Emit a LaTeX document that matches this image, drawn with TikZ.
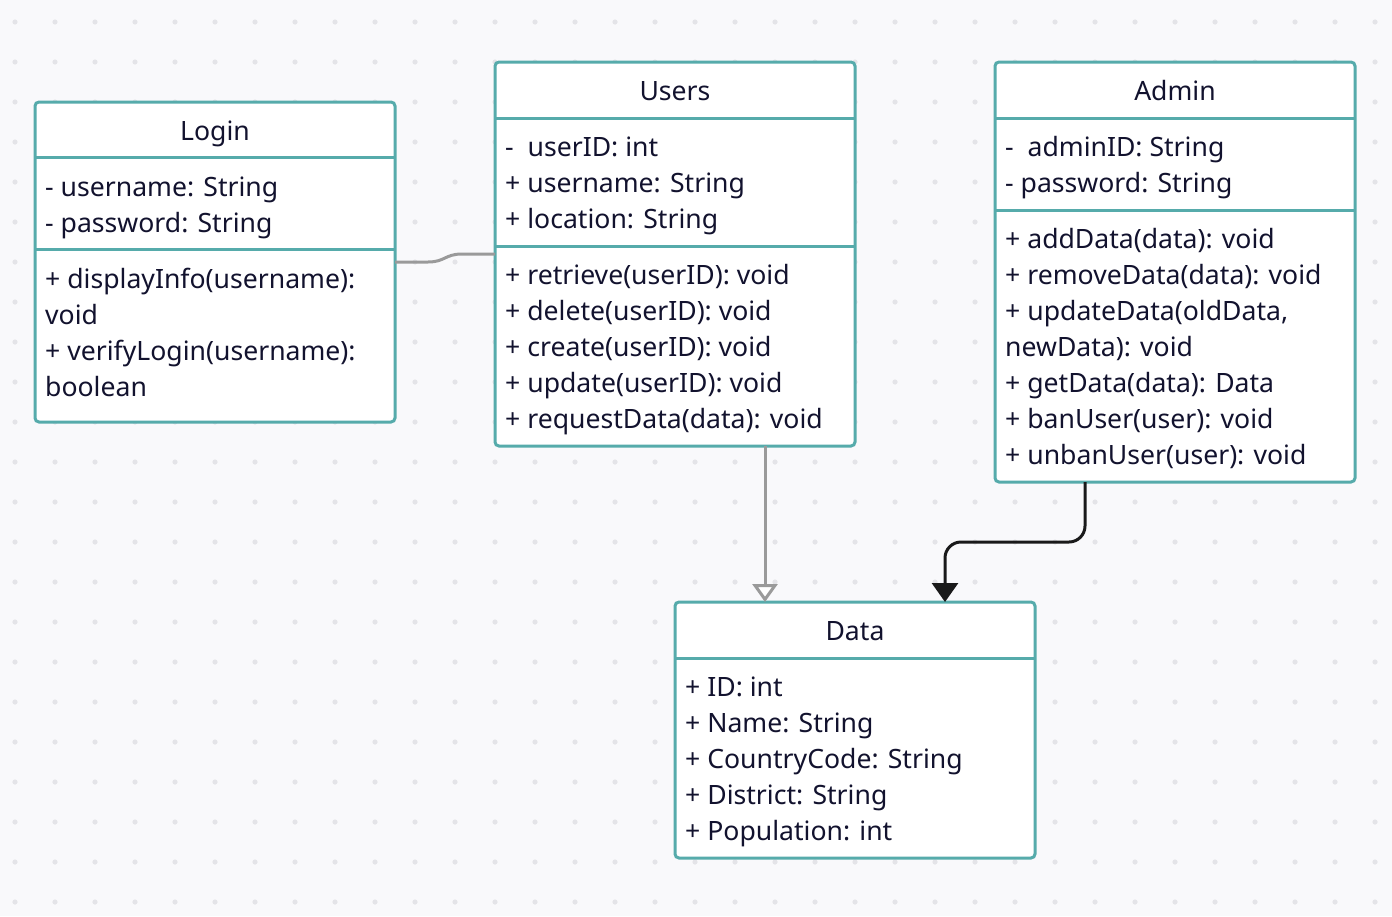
\documentclass[tikz,border=0pt]{standalone}
\usepackage{fontspec}
\setmainfont{Noto Sans}
\usetikzlibrary{arrows.meta}
\definecolor{bgc}{HTML}{F9F9FB}
\definecolor{dotc}{HTML}{E4E4E8}
\definecolor{tealc}{HTML}{56ABAB}
\definecolor{txtc}{HTML}{12122E}
\definecolor{grayc}{HTML}{9A9A9A}
\definecolor{darkc}{HTML}{1A1A1A}
\tikzset{
  umlbox/.style={draw=tealc, line width=3pt, fill=white, rounded corners=4pt, inner sep=0pt, outer sep=0pt},
  sepline/.style={draw=tealc, line width=3pt},
  txt/.style={text=txtc, font=\fontsize{26.6}{36}\selectfont, inner sep=0pt, anchor=base west},
  ttl/.style={text=txtc, font=\fontsize{26.6}{36}\selectfont, inner sep=0pt, anchor=base},
  inherit/.style={draw=grayc, line width=3pt, -{Triangle[open, length=18pt, width=25pt, fill=white, line width=3pt]}},
  plainlink/.style={draw=grayc, line width=3pt},
  assoc/.style={draw=darkc, line width=3pt, rounded corners=16pt, -{Triangle[length=19pt, width=26pt]}, fill=none}
}
\begin{document}
\begin{tikzpicture}[x=1pt, y=-1pt]
\useasboundingbox (0,0) rectangle (1392,916);
\fill[bgc] (0,0) rectangle (1392,916);
\foreach \xx in {15,55,...,1375}
  \foreach \yy in {22,62,...,902}
    \fill[dotc] (\xx,\yy) circle (2.6pt);

% Login
\node[umlbox, minimum width=360pt, minimum height=320pt] (login) at (215,262) {};
\draw[sepline] (login.west |- 0,157) -- (login.east |- 0,157);
\draw[sepline] (login.west |- 0,249) -- (login.east |- 0,249);
\node[ttl] (logint) at (215,140.5) {Login};
\foreach \t [count=\i] in {- username: String, - password: String}
  \node[txt] (la\i) at (45,196.5+36*\i-36) {\t};
\foreach \t [count=\i] in {+ displayInfo(username):, void, + verifyLogin(username):, boolean}
  \node[txt] (lm\i) at (45,288.5+36*\i-36) {\t};

% Users
\node[umlbox, minimum width=360pt, minimum height=384pt] (users) at (675,254) {};
\draw[sepline] (users.west |- 0,118) -- (users.east |- 0,118);
\draw[sepline] (users.west |- 0,246) -- (users.east |- 0,246);
\node[ttl] (userst) at (675,100.5) {Users};
\foreach \t [count=\i] in {-\ \ userID: int, + username: String, + location: String}
  \node[txt] (ua\i) at (505,156.5+36*\i-36) {\t};
\foreach \t [count=\i] in {+ retrieve(userID): void, + delete(userID): void, + create(userID): void, + update(userID): void, + requestData(data): void}
  \node[txt] (um\i) at (505,284.5+36*\i-36) {\t};

% Admin
\node[umlbox, minimum width=360pt, minimum height=420pt] (admin) at (1175,272) {};
\draw[sepline] (admin.west |- 0,118) -- (admin.east |- 0,118);
\draw[sepline] (admin.west |- 0,210) -- (admin.east |- 0,210);
\node[ttl] (admint) at (1175,100.5) {Admin};
\foreach \t [count=\i] in {-\ \ adminID: String, - password: String}
  \node[txt] (aa\i) at (1005,156.5+36*\i-36) {\t};
\foreach \t [count=\i] in {+ addData(data): void, + removeData(data): void, {+ updateData(oldData,}, newData): void, + getData(data): Data, + banUser(user): void, + unbanUser(user): void}
  \node[txt] (am\i) at (1005,248.5+36*\i-36) {\t};

% Data
\node[umlbox, minimum width=360pt, minimum height=256pt] (data) at (855,730) {};
\draw[sepline] (data.west |- 0,658) -- (data.east |- 0,658);
\node[ttl] (datat) at (855,640.5) {Data};
\foreach \t [count=\i] in {+ ID: int, + Name: String, + CountryCode: String, + District: String, + Population: int}
  \node[txt] (da\i) at (685,696.5+36*\i-36) {\t};

% Connectors
\draw[plainlink] (login.east) -- ++(33,0) .. controls +(17,0) and +(-17,0) .. ([xshift=-33pt]users.west) -- (users.west);
\draw[inherit] ([xshift=90pt]users.south) -- ([xshift=90pt]users.south |- data.north);
\coordinate (bend) at (945,542);
\draw[assoc] ([xshift=-90pt]admin.south) |- (bend) -- ([xshift=90pt]data.north);
\end{tikzpicture}
\end{document}
